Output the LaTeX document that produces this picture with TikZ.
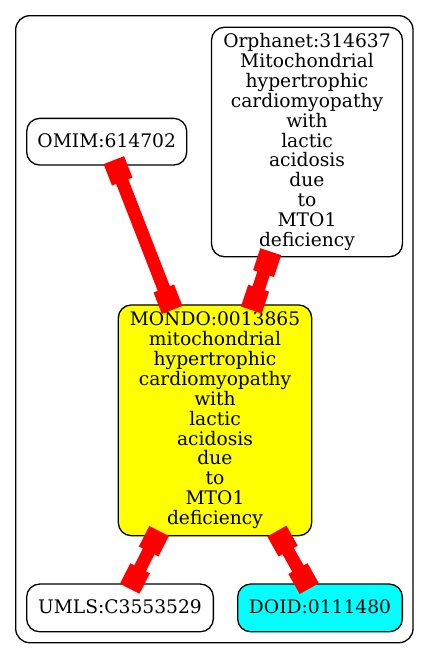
\documentclass[tikz,border=0pt]{standalone}
\usepackage{fontspec}
\setmainfont{DejaVu Serif}
\definecolor{gvyellow}{RGB}{255,255,0}
\definecolor{gvcyan}{RGB}{0,255,255}
\definecolor{gvred}{RGB}{255,0,0}
\begin{document}
\begin{tikzpicture}[x=1pt,y=-1pt,
  every node/.style={font=\fontsize{18.67}{19.9}\selectfont},
  gvnode/.style={draw=black, line width=1.3pt, rounded corners=13pt, align=center, inner sep=0pt},
  oneline/.style={text depth=2.5pt},
  gvedge/.style={draw=gvred, line width=13pt},
  tipbox/.style={fill=gvred, rectangle, sloped, allow upside down, minimum width=23pt, minimum height=22pt, inner sep=0pt, outer sep=-6pt}]
\useasboundingbox (0,0) rectangle (429,659);
\draw[line width=1.3pt, rounded corners=14pt] (15.7,15.7) rectangle (413,642.7);
\node[gvnode, oneline, minimum width=160pt, minimum height=46.7pt] (omim) at (106.7,141.7) {OMIM:614702};
\node[gvnode, minimum width=191pt, minimum height=229.5pt] (orph) at (307,142) {Orphanet:314637\\Mitochondrial\\hypertrophic\\cardiomyopathy\\with\\lactic\\acidosis\\due\\to\\MTO1\\deficiency};
\node[gvnode, fill=gvyellow, minimum width=193.4pt, minimum height=230.7pt] (mondo) at (215,420.3) {MONDO:0013865\\mitochondrial\\hypertrophic\\cardiomyopathy\\with\\lactic\\acidosis\\due\\to\\MTO1\\deficiency};
\node[gvnode, oneline, minimum width=186.7pt, minimum height=47.7pt] (umls) at (120,607.9) {UMLS:C3553529};
\node[gvnode, oneline, fill=gvcyan, minimum width=164.7pt, minimum height=47.7pt] (doid) at (320,607.9) {DOID:0111480};
\draw[gvedge] (omim) -- node[tipbox,pos=0,anchor=west]{} node[tipbox,pos=1,anchor=east]{} (mondo);
\draw[gvedge] (orph) -- node[tipbox,pos=0,anchor=west]{} node[tipbox,pos=1,anchor=east]{} (mondo);
\draw[gvedge] (mondo) -- node[tipbox,pos=0,anchor=west]{} node[tipbox,pos=1,anchor=east]{} (umls);
\draw[gvedge] (mondo) -- node[tipbox,pos=0,anchor=west]{} node[tipbox,pos=1,anchor=east]{} (doid);
\end{tikzpicture}
\end{document}
